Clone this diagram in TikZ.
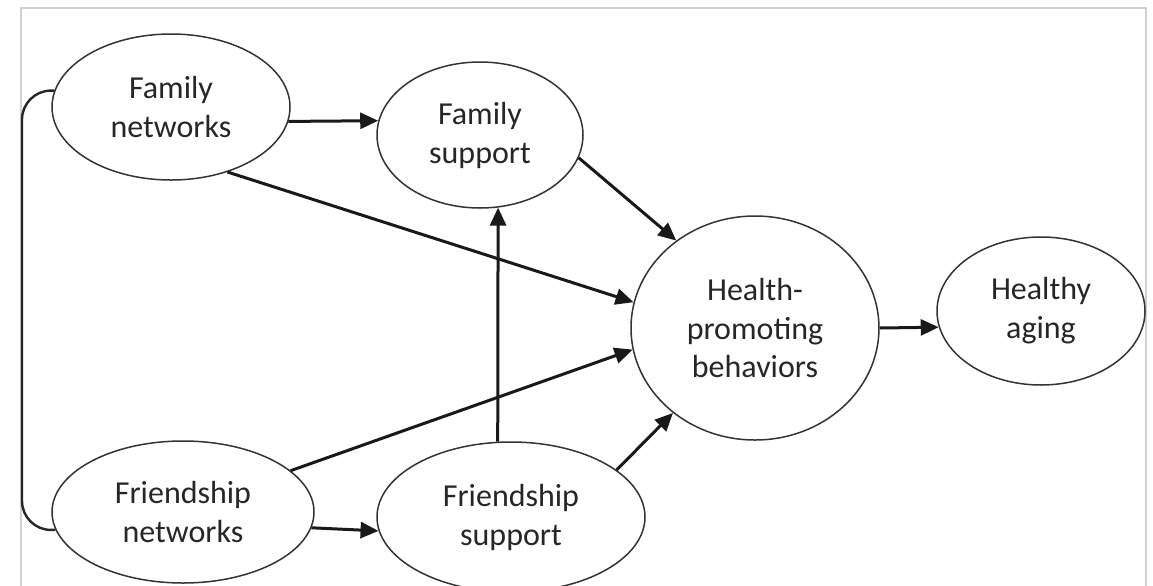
\documentclass[tikz,border=0pt]{standalone}
\usepackage{fontspec}
\setmainfont{Carlito}
\usetikzlibrary{shapes.geometric,arrows.meta}
\begin{document}
\begin{tikzpicture}[x=0.5pt,y=-0.5pt,
  oval/.style={ellipse,draw=black!80,line width=0.75pt,inner sep=0pt,align=center,
    font=\fontsize{16pt}{19.5pt}\selectfont,text=black!85},
  link/.style={line width=1.5pt,draw=black!90,-{Triangle[length=9pt,width=8pt]}},
  frame/.style={draw=black!18,line width=1pt}]
\useasboundingbox (0,0) rectangle (1153,585);
\coordinate (f1) at (21,600);
\coordinate (f2) at (21,8);
\coordinate (f3) at (1146,8);
\coordinate (f4) at (1146,600);
\draw[frame] (f1) -- (f2) -- (f3) -- (f4);

\node[oval,minimum width=119pt,minimum height=73pt] (fn) at (171,107) {Family\\networks};
\node[oval,minimum width=103pt,minimum height=73pt] (fs) at (480,135) {Family\\support};
\node[oval,minimum width=124pt,minimum height=112pt] (hb) at (755,328) {Health-\\promoting\\behaviors};
\node[oval,minimum width=104pt,minimum height=74pt] (ha) at (1041,311) {Healthy\\aging};
\node[oval,minimum width=131pt,minimum height=71pt] (frn) at (183,512) {Friendship\\networks};
\node[oval,minimum width=134pt,minimum height=75pt] (frs) at (511,517) {Friendship\\support};

\coordinate (bl) at (22,300);
\draw[line width=1.2pt,draw=black!85,rounded corners=14.5pt] (fn.172.2) -| (bl) |- (frn.-172.4);

\draw[link] (fn.-7.3) -- (fs.172.7);
\draw[link] (fn.-49.3) -- (hb.168.5);
\draw[link] (fs.-13.2) -- (hb.132.9);
\draw[link] (frn.21.4) -- (hb.-170.5);
\draw[link] (frn.-7.6) -- (frs.-174.8);
\draw[link] (frs.24.4) -- (hb.-134.3);
\draw[link] (hb.0.5) -- (ha.-171.6);
\draw[link] (frs.100.6) -- (fs.-76.7);
\end{tikzpicture}
\end{document}
